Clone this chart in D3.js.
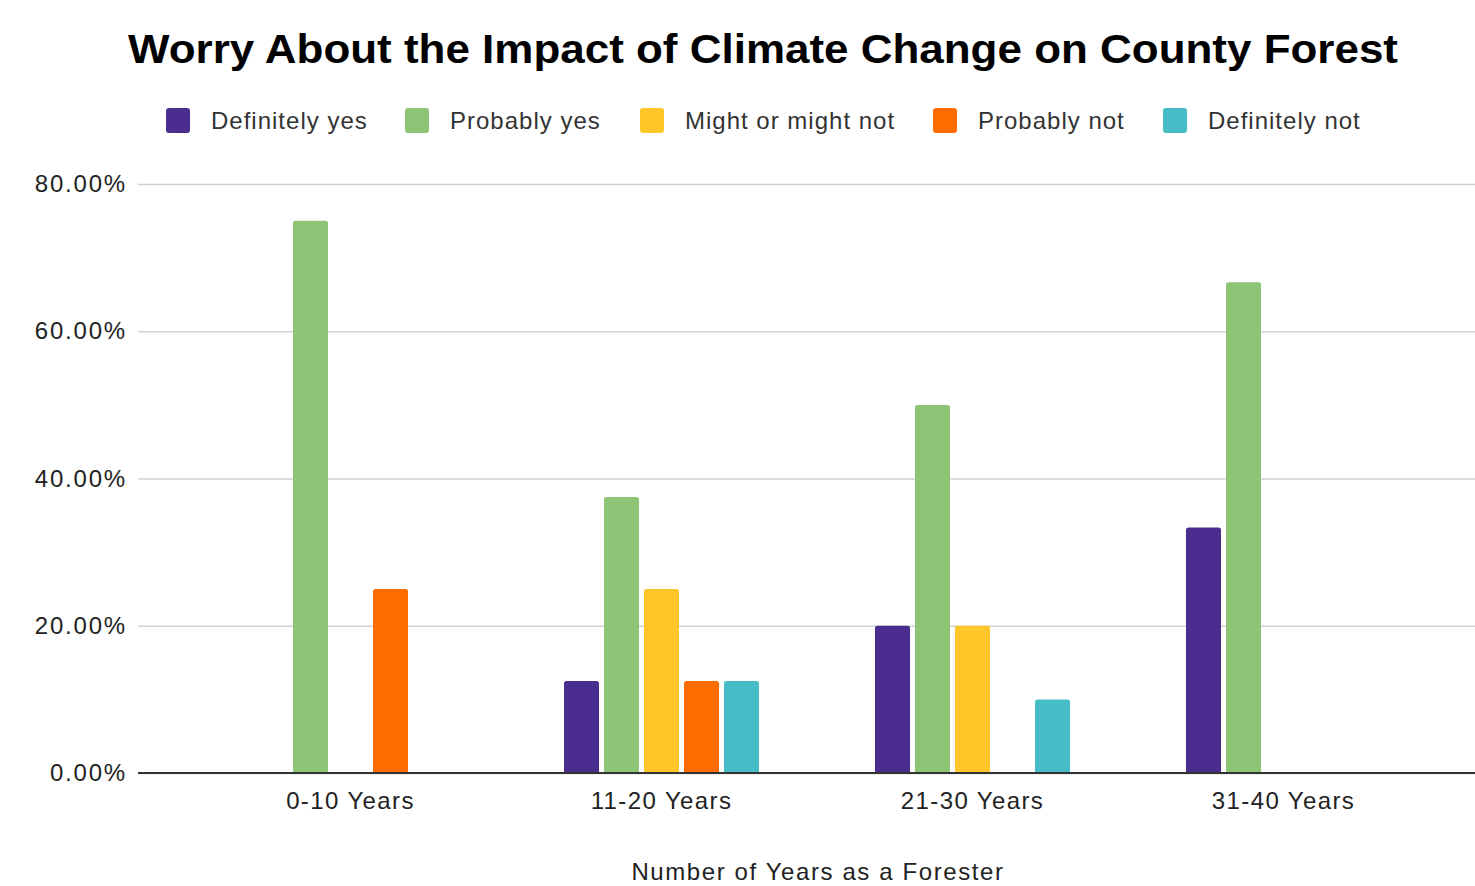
<!DOCTYPE html>
<html>
<head>
<meta charset="utf-8">
<script src="https://cdn.jsdelivr.net/npm/d3@7"></script>
<style>
  body { margin: 0; background: #fff; }
  text { font-family: "Liberation Sans", Arial, sans-serif; }
</style>
</head>
<body>
<svg></svg>
<script>
const categories = ["0-10 Years", "11-20 Years", "21-30 Years", "31-40 Years"];
const seriesNames = ["Definitely yes", "Probably yes", "Might or might not", "Probably not", "Definitely not"];
const definitelyYes = [0, 12.5, 20, 33.33];
const probablyYes = [75, 37.5, 50, 66.67];
const mightOrMightNot = [0, 25, 20, 0];
const probablyNot = [25, 12.5, 0, 0];
const definitelyNot = [0, 12.5, 10, 0];
const yTicks = [0, 20, 40, 60, 80];
const colors = ["#4a2d8f", "#8cc576", "#ffc629", "#ff6d00", "#46bdc6"];

const seriesValues = [definitelyYes, probablyYes, mightOrMightNot, probablyNot, definitelyNot];

const width = 1475;
const height = 886;
const plotLeft = 138;
const plotRight = 1475;
const plotTop = 184;
const plotBottom = 773;
const groupWidth = 195;

const svg = d3.select("svg").attr("width", width).attr("height", height);

//scales
const xScale = d3.scaleBand().domain(categories).range([195, 1439]);
const xInner = d3.scaleBand().domain(seriesNames).range([0, groupWidth]).paddingInner(0.125).paddingOuter(0);
const yScale = d3.scaleLinear().domain([0, 80]).range([plotBottom, plotTop]);

//gridlines + y labels
const yAxis = d3.axisLeft(yScale)
    .tickValues(yTicks)
    .tickSize(-(plotRight - plotLeft))
    .tickPadding(11)
    .tickFormat(d => d.toFixed(2) + "%");

const yG = svg.append("g")
    .attr("transform", "translate(" + plotLeft + ",0)")
    .call(yAxis);
yG.select(".domain").remove();
yG.selectAll(".tick line").attr("stroke", "#d0d0d0").attr("stroke-width", 1.5);
yG.selectAll(".tick text")
    .attr("font-size", 24)
    .attr("fill", "#222")
    .attr("letter-spacing", 1.8)
    .style("font-family", "'Liberation Sans', Arial, sans-serif");

//bars
const rows = [];
categories.forEach((c, i) => {
    seriesNames.forEach((s, j) => {
        rows.push({ cat: c, series: s, value: seriesValues[j][i], color: colors[j] });
    });
});

const groupOffset = (xScale.bandwidth() - groupWidth) / 2;
svg.append("g").selectAll("path")
    .data(rows.filter(d => d.value > 0))
    .enter()
    .append("path")
    .attr("fill", d => d.color)
    .attr("d", d => {
        const x0 = xScale(d.cat) + groupOffset + xInner(d.series);
        const w = xInner.bandwidth();
        const y0 = yScale(d.value);
        const y1 = yScale(0);
        const r = 2.5;
        return "M" + x0 + "," + y1 +
            "V" + (y0 + r) +
            "Q" + x0 + "," + y0 + " " + (x0 + r) + "," + y0 +
            "H" + (x0 + w - r) +
            "Q" + (x0 + w) + "," + y0 + " " + (x0 + w) + "," + (y0 + r) +
            "V" + y1 + "Z";
    });

//x axis
const xAxis = d3.axisBottom(xScale).tickSize(0).tickPadding(19);
const xG = svg.append("g")
    .attr("transform", "translate(0," + plotBottom + ")")
    .call(xAxis);
xG.select(".domain").remove();
xG.selectAll(".tick text")
    .attr("font-size", 24)
    .attr("fill", "#222")
    .attr("letter-spacing", 1.4)
    .style("font-family", "'Liberation Sans', Arial, sans-serif");

svg.append("line")
    .attr("x1", plotLeft).attr("x2", plotRight)
    .attr("y1", plotBottom).attr("y2", plotBottom)
    .attr("stroke", "#333").attr("stroke-width", 2);

//title
svg.append("text")
    .attr("x", 763).attr("y", 63)
    .attr("text-anchor", "middle")
    .attr("font-size", 40)
    .attr("font-weight", "bold")
    .attr("textLength", 1270)
    .attr("lengthAdjust", "spacingAndGlyphs")
    .attr("fill", "#000")
    .text("Worry About the Impact of Climate Change on County Forest");

//legend
const legendX = [166, 405, 640, 933, 1163];
const legend = svg.append("g").selectAll("g")
    .data(seriesNames)
    .enter()
    .append("g")
    .attr("transform", (d, i) => "translate(" + legendX[i] + ",108)");
legend.append("rect")
    .attr("width", 24).attr("height", 25).attr("rx", 3)
    .attr("fill", (d, i) => colors[i]);
legend.append("text")
    .attr("x", 45).attr("y", 21)
    .attr("font-size", 24)
    .attr("letter-spacing", 1)
    .attr("fill", "#333")
    .text(d => d);

//x axis title
svg.append("text")
    .attr("x", 818).attr("y", 880)
    .attr("text-anchor", "middle")
    .attr("font-size", 24)
    .attr("letter-spacing", 1.6)
    .attr("fill", "#222")
    .text("Number of Years as a Forester");
</script>
</body>
</html>
